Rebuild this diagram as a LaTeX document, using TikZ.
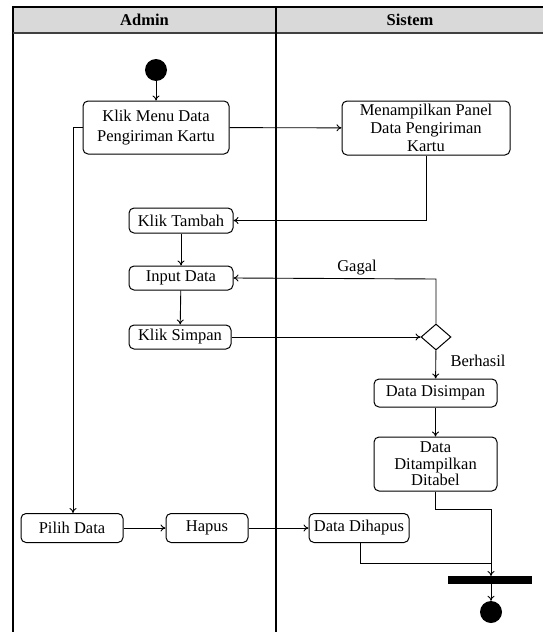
\documentclass[tikz,border=0pt]{standalone}
\usepackage{fontspec}
\setmainfont{Liberation Serif}
\usetikzlibrary{arrows.meta,shapes.geometric}
\begin{document}
\begin{tikzpicture}[x=1pt,y=-1pt,
  font=\fontsize{16.5}{20}\selectfont,
  every node/.style={inner sep=0pt},
  act/.style={draw,rounded corners=5pt,line width=1pt,fill=white},
  multi/.style={act,align=center},
  flow/.style={line width=0.9pt,-{To[length=5pt,width=7pt]}},
  seg/.style={line width=0.9pt},
  lane/.style={line width=1.2pt},
  hdr/.style={font=\fontsize{16.5}{18}\selectfont\bfseries}]
\useasboundingbox (0,0) rectangle (542,632);

% swimlane frame
\fill[gray!30] (13,7) rectangle (545,33);
\draw[lane] (545,7) -- (13,7) -- (13,640);
\draw[line width=1.8pt,black!75] (13,33) -- (545,33);
\draw[lane] (276,7) -- (276,640);
\node[hdr] (hadmin) at (144.5,20) {Admin};
\node[hdr] (hsistem) at (410,20) {Sistem};

% activities
\node[circle,fill=black,minimum size=22pt] (start) at (156,70) {};
\node[multi,minimum width=146pt,minimum height=53pt] (klikmenu) at (156,127.5) {Klik Menu Data\\Pengiriman Kartu};
\node[multi,minimum width=168pt,minimum height=54pt,font=\fontsize{16.5}{18}\selectfont] (panel) at (426,128) {Menampilkan Panel\\Data Pengiriman\\Kartu};
\node[act,minimum width=104pt,minimum height=25pt] (tambah) at (181,220.5) {Klik Tambah};
\node[act,minimum width=104pt,minimum height=24pt] (input) at (181,278) {Input Data};
\node[act,minimum width=102pt,minimum height=24pt] (simpan) at (180,337) {Klik Simpan};
\node[draw,diamond,line width=1pt,minimum width=30pt,minimum height=26pt] (dec) at (436,337) {};
\node[act,minimum width=123pt,minimum height=28pt] (disimpan) at (435.5,393) {Data Disimpan};
\node[multi,minimum width=123pt,minimum height=54pt,font=\fontsize{16.5}{16.5}\selectfont] (tabel) at (435.5,464) {Data\\Ditampilkan\\Ditabel};
\node[act,minimum width=102pt,minimum height=29pt] (pilih) at (72,528) {Pilih Data};
\node[act,minimum width=82pt,minimum height=29pt] (hapus) at (207,528) {Hapus};
\node[act,minimum width=100pt,minimum height=29pt] (dihapus) at (359,528) {Data Dihapus};
\node[fill=black,minimum width=84pt,minimum height=8pt] (bar) at (490,580) {};
\node[circle,fill=black,minimum size=22pt] (end) at (491,612) {};

% label text
\node (gagal) at (357,268) {Gagal};
\node (berhasil) at (478,361) {Berhasil};

% control flow
\coordinate (gtop) at (436,279);
\coordinate (ptop) at (426,220.5);
\coordinate (lturn) at (73,127.5);
\coordinate (tdrop) at (435.5,509);
\coordinate (tjoin) at (491,509);
\coordinate (hdrop) at (360.5,563);
\coordinate (hjoin) at (491,563);
\coordinate (bartop) at (491,576);

\draw[flow] (start) -- (klikmenu);
\draw[flow] (klikmenu) -- (panel);
\draw[flow] (panel.south) -- (ptop) -- (tambah.east);
\draw[flow] (tambah) -- (input);
\draw[flow] (input) -- (simpan);
\draw[flow] (simpan) -- (dec);
\draw[flow] (dec.north) -- (gtop) -- (input.east);
\draw[flow] (dec) -- (disimpan);
\draw[flow] (disimpan) -- (tabel);
\draw[flow] (klikmenu.west) -- (lturn) -- (lturn |- pilih.north);
\draw[flow] (pilih) -- (hapus);
\draw[flow] (hapus) -- (dihapus);
\draw[flow] (tabel.south) -- (tdrop) -- (tjoin) -- (bartop);
\draw[seg] (dihapus.south -| hdrop) -- (hdrop) -- (hjoin);
\draw[flow] (491,584) -- (end);
\end{tikzpicture}
\end{document}
